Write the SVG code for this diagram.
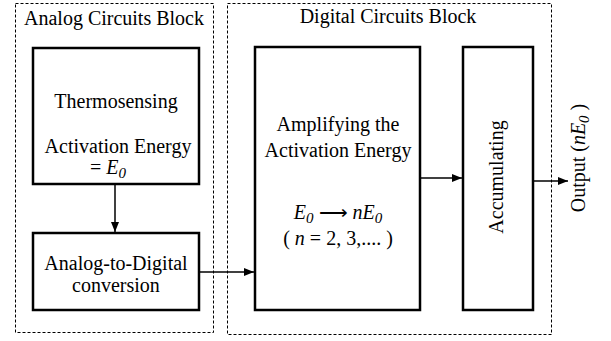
<svg xmlns="http://www.w3.org/2000/svg" width="611" height="341" viewBox="0 0 611 341" font-family="'Liberation Serif', 'Times New Roman', serif">
<defs>
<marker id="ah" viewBox="0 0 10 8" refX="10" refY="4" markerWidth="10" markerHeight="8" markerUnits="userSpaceOnUse" orient="auto">
<path d="M0,0 L10,4 L0,8 z" fill="#000"/>
</marker>
<style>
.grp{fill:none;stroke:#000;stroke-width:1;stroke-dasharray:3,2}
.box{fill:#fff;stroke:#000;stroke-width:2.5}
text{font-family:'Liberation Serif','Times New Roman',serif}
.t{font-size:20px;fill:#000;text-anchor:middle}
.i{font-style:italic}
.c{fill:none;stroke:#000;stroke-width:1.5}
</style>
</defs>
<rect width="611" height="341" fill="#fff"/>
<g id="analog-block">
<rect class="grp" x="15.5" y="3.5" width="198" height="329"/>
<text class="t" x="114" y="25">Analog Circuits Block</text>
</g>
<g id="digital-block">
<rect class="grp" x="227.5" y="3.5" width="324" height="331"/>
<text class="t" x="388" y="23">Digital Circuits Block</text>
</g>
<g id="thermosensing">
<rect class="box" x="33" y="48" width="166" height="136"/>
<text class="t" x="116" y="108">Thermosensing</text>
<text class="t" x="118" y="153">Activation Energy</text>
<text class="t" x="108" y="174">= <tspan class="i">E</tspan><tspan class="i" font-size="15" dy="4">0</tspan></text>
</g>
<g id="adc">
<rect class="box" x="33" y="233" width="166" height="77"/>
<text class="t" x="116" y="270">Analog-to-Digital</text>
<text class="t" x="116" y="292">conversion</text>
</g>
<g id="amplifying">
<rect class="box" x="255" y="47" width="165" height="263"/>
<text class="t" x="338" y="131">Amplifying the</text>
<text class="t" x="338" y="157">Activation Energy</text>
<text class="t" x="338" y="219"><tspan class="i">E</tspan><tspan class="i" font-size="15" dy="4">0</tspan><tspan dy="-4"> ⟶ </tspan><tspan class="i">nE</tspan><tspan class="i" font-size="15" dy="4">0</tspan></text>
<text class="t" x="338" y="245">( <tspan class="i">n</tspan> = 2, 3,.... )</text>
</g>
<g id="accumulating">
<rect class="box" x="463" y="47" width="70" height="263"/>
<text class="t" transform="translate(503,177) rotate(-90)" x="0" y="0">Accumulating</text>
</g>
<g id="output">
<text class="t" transform="translate(585,158) rotate(-90)" x="0" y="0">Output  (<tspan class="i">nE</tspan><tspan class="i" font-size="15" dy="4">0</tspan><tspan dy="-4"> )</tspan></text>
</g>
<g id="connectors">
<line class="c" x1="115" y1="184" x2="115" y2="232" marker-end="url(#ah)"/>
<line class="c" x1="199" y1="272" x2="254" y2="272" marker-end="url(#ah)"/>
<line class="c" x1="420" y1="178" x2="462" y2="178" marker-end="url(#ah)"/>
<line class="c" x1="533" y1="181" x2="568" y2="181" marker-end="url(#ah)"/>
</g>
</svg>
